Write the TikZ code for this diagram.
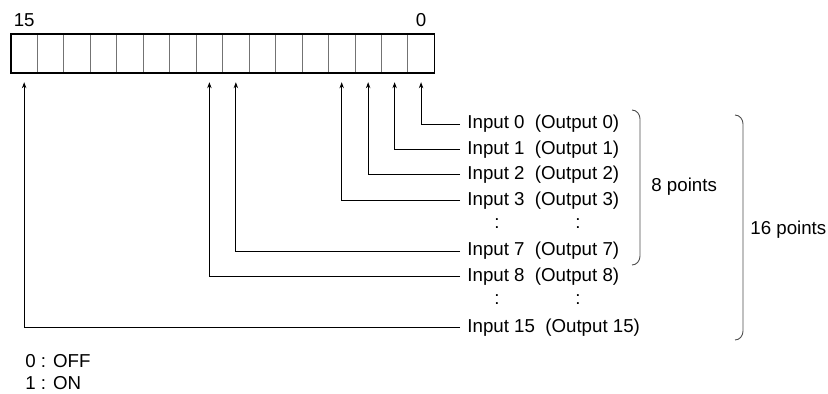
\documentclass[tikz,border=0pt]{standalone}
\usepackage{fontspec}
\setmainfont{Liberation Sans}
\usetikzlibrary{arrows.meta, positioning, calc}
\tikzset{
  cell/.style={
    draw=black!55, line width=0.4pt,
    minimum width=13.23pt, minimum height=19.5pt,
    inner sep=0pt, outer sep=0pt
  },
  frame/.style={draw, line width=0.6pt},
  lbl/.style={font=\fontsize{9.35}{11}\selectfont, inner sep=0pt},
  sig/.style={-{Stealth[length=3pt,width=2.2pt]}, line width=0.45pt},
  brk/.style={line width=0.45pt, black!70}
}

\begin{document}
\begin{tikzpicture}[x=0.5pt, y=-0.5pt]
  \useasboundingbox (0,0) rectangle (828,393);

  % register, bit 0 on the right
  \foreach \i in {0,...,15}
    \node[cell] (b\i) at ({421.07-26.46*\i},53.5) {};
  \draw[frame] (b15.north west) rectangle (b0.south east);

  \node[lbl] (hi) at (b15 |- 0,20) {15};
  \node[lbl] (lo) at (b0 |- 0,20)  {0};

  % signal labels
  \node[lbl, anchor=west] (in0)  at (467,124)   {Input 0\ \ (Output 0)};
  \node[lbl, anchor=west] (in1)  at (467,149.4) {Input 1\ \ (Output 1)};
  \node[lbl, anchor=west] (in2)  at (467,174.8) {Input 2\ \ (Output 2)};
  \node[lbl, anchor=west] (in3)  at (467,200.2) {Input 3\ \ (Output 3)};
  \node[lbl] (dotsa) at (497,223.6) {:};
  \node[lbl] (dotsb) at (578,223.6) {:};
  \node[lbl, anchor=west] (in7)  at (467,251)   {Input 7\ \ (Output 7)};
  \node[lbl, anchor=west] (in8)  at (467,276.4) {Input 8\ \ (Output 8)};
  \node[lbl] (dotsc) at (497,299.8) {:};
  \node[lbl] (dotsd) at (578,299.8) {:};
  \node[lbl, anchor=west] (in15) at (467,327.2) {Input 15\ \ (Output 15)};

  \foreach \i in {0,1,2,3,7,8,15}
    \draw[sig, shorten <=3.5pt, shorten >=4.6pt] (in\i.west) -| (b\i.south);

  % groups
  \draw[brk] (632,110) to[out=0,in=90] (640,119) -- (640,256)
             to[out=-90,in=0] (632,265);
  \node[lbl, anchor=west] (p8) at (651,187) {8 points};

  \draw[brk] (735,115) to[out=0,in=90] (743,124) -- (743,331)
             to[out=-90,in=0] (735,340);
  \node[lbl, anchor=west] (p16) at (750,230) {16 points};

  % legend
  \node[lbl, anchor=west] (off) at (25,361) {0 : OFF};
  \node[lbl, anchor=west] (on)  at (25,383) {1 : ON};

\end{tikzpicture}
\end{document}
